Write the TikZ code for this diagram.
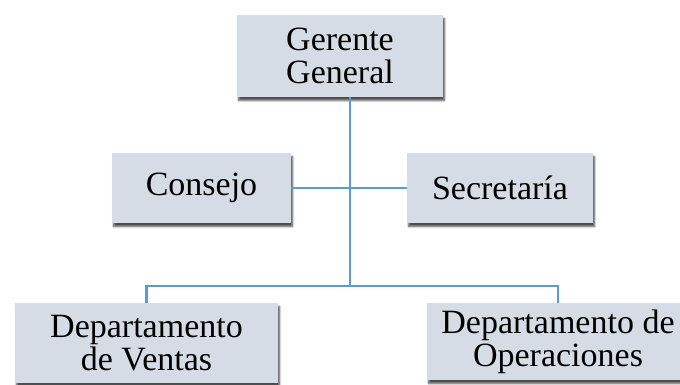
\documentclass[tikz,border=0pt]{standalone}
\usepackage{fontspec}
\setmainfont{Liberation Serif}
\usetikzlibrary{shadows.blur}
\definecolor{cajagris}{HTML}{D6DCE5}
\definecolor{lineaazul}{HTML}{5B9BD5}

\begin{document}
\begin{tikzpicture}[x=1pt,y=-1pt,
    caja/.style={fill=cajagris,align=center,inner sep=0pt,
      font=\fontsize{34}{33}\selectfont,
      blur shadow={shadow xshift=1.5pt,shadow yshift=-3.5pt,shadow blur steps=6,shadow opacity=70}},
    linea/.style={draw=lineaazul,line width=2.2pt}]
        \useasboundingbox (0,0) rectangle (680,385);
        \node[caja,minimum width=206pt,minimum height=82pt] (gerente) at (340,56) {Gerente\\General};
        \node[caja,minimum width=179pt,minimum height=70pt] (consejo) at (201.5,188) {Consejo};
        \node[caja,minimum width=186pt,minimum height=70pt] (secretaria) at (500,188) {Secretaría};
        \node[caja,minimum width=263pt,minimum height=80pt] (ventas) at (146.5,343) {Departamento\\de Ventas};
        \node[caja,minimum width=262pt,minimum height=77pt] (operaciones) at (558,341.5) {Departamento de\\Operaciones};
        \coordinate (tronco) at (350,188);
        \coordinate (barra) at (350,286);
        \draw[linea] (gerente.south -| tronco)--(barra);
        \draw[linea] (consejo.east)--(secretaria.west);
        \draw[linea] (ventas.north) |- (barra) -| (operaciones.north);
    \end{tikzpicture}
\end{document}
